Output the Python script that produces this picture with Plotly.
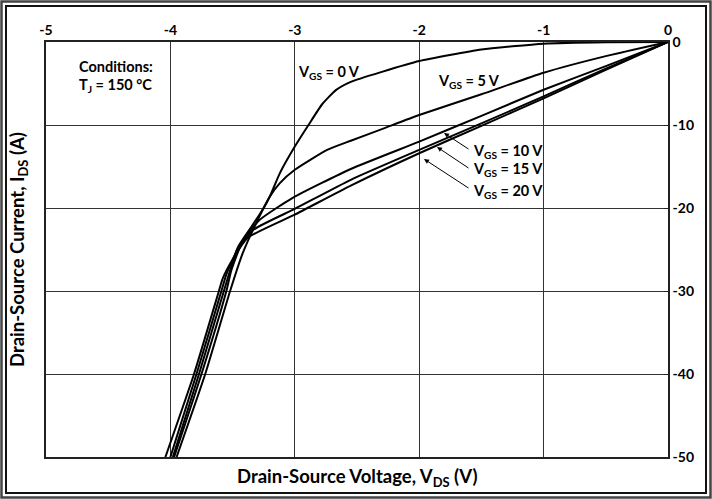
import plotly.graph_objects as go

# ---- data ----
v0 = [0, -0.5, -1.0, -1.5, -2.0, -2.3, -2.55, -2.67, -2.78, -2.89, -3.0, -3.12, -3.20, -3.25, -3.35, -3.46, -3.57, -3.77, -3.98]
i0 = [0, -0.02, -0.2, -0.9, -2.3, -3.6, -4.8, -5.8, -7.5, -10, -12.6, -15.8, -18.6, -20, -22.3, -24.8, -30, -40, -50]

v5 = [0, -0.5, -1.0, -1.5, -2.0, -2.3, -2.55, -2.74, -3.0, -3.12, -3.20, -3.30, -3.42, -3.52, -3.72, -3.95]
i5 = [0, -1.7, -3.7, -6.3, -8.8, -10.5, -11.9, -13.0, -15.4, -17.0, -18.6, -21.5, -25.5, -30, -40, -50]

v10 = [0, -0.5, -1.0, -1.5, -2.0, -2.55, -3.02, -3.28, -3.42, -3.51, -3.55, -3.75, -3.97]
i10 = [0, -2.9, -5.75, -8.9, -12.0, -15.3, -18.8, -21.4, -24, -27.5, -30, -40, -50]

v15 = [0, -0.5, -1.0, -1.5, -2.0, -2.55, -3.0, -3.33, -3.46, -3.55, -3.59, -3.79, -4.0]
i15 = [0, -3.2, -6.55, -9.8, -13.0, -16.6, -20.1, -22.6, -25, -28, -30, -40, -50]

v20 = [0, -0.5, -1.0, -1.5, -2.0, -2.55, -3.0, -3.38, -3.5, -3.58, -3.61, -3.81, -4.04]
i20 = [0, -3.35, -6.8, -10.1, -13.4, -17.3, -20.8, -23.6, -26.2, -28.5, -30, -40, -50]

x_ticks = [-5, -4, -3, -2, -1, 0]
y_ticks = [0, -10, -20, -30, -40, -50]

FONT = "Lato"
W, H = 712, 499
ML, MR, MT, MB = 46, 44, 42, 42

fig = go.Figure()
for vx, iy in [(v0, i0), (v5, i5), (v10, i10), (v15, i15), (v20, i20)]:
    fig.add_trace(go.Scatter(x=vx, y=iy, mode="lines", line=dict(color="black", width=2, shape="spline", smoothing=0.5),
                             showlegend=False, hoverinfo="skip"))

axis_common = dict(showgrid=True, gridcolor="#333", gridwidth=1, zeroline=False, showline=True,
                   linecolor="#222", linewidth=1.5, mirror=True,
                   tickfont=dict(family=FONT, size=14, color="black", weight="bold"))

fig.update_xaxes(range=[-5, 0], side="top", tickvals=x_ticks, ticktext=[str(t) for t in x_ticks],
                 ticks="", **axis_common)
fig.update_yaxes(range=[-50, 0], side="right", tickvals=y_ticks, ticktext=[str(t) for t in y_ticks],
                 ticks="inside", ticklen=4, tickcolor="#222", **axis_common)

pw = W - ML - MR
ph = H - MT - MB
def px(x):
    return (x - ML) / pw
def py(y):
    return 1 - (y - MT) / ph

def txt(x, y, s, size=14.5, xanchor="left"):
    fig.add_annotation(xref="paper", yref="paper", x=px(x), y=py(y), text=s, showarrow=False,
                       xanchor=xanchor, yanchor="middle",
                       font=dict(family=FONT, size=size, color="black", weight="bold"))

# axis titles
txt(357, 477, "Drain-Source Voltage, V<sub>DS</sub> (V)", size=18.5, xanchor="center")
fig.add_annotation(xref="paper", yref="paper", x=px(18), y=py(250), text="Drain-Source Current, I<sub>DS</sub> (A)",
                   showarrow=False, textangle=-90, xanchor="center", yanchor="middle",
                   font=dict(family=FONT, size=18.5, color="black", weight="bold"))

# conditions
txt(77, 66, "Conditions:")
txt(77, 85, "T<sub>J</sub> = 150 °C")

# curve labels
txt(296, 73, "V<sub>GS</sub> = 0 V")
txt(436, 81, "V<sub>GS</sub> = 5 V")
txt(471, 151, "V<sub>GS</sub> = 10 V")
txt(471, 169, "V<sub>GS</sub> = 15 V")
txt(471, 191, "V<sub>GS</sub> = 20 V")

# arrows from labels to curves
for (x0, y0, x1, y1) in [(470, 150, 444, 133), (470, 169, 437, 147), (470, 189, 424, 159)]:
    fig.add_annotation(xref="paper", yref="paper", x=px(x1), y=py(y1), ax=x0 - x1, ay=y0 - y1,
                       axref="pixel", ayref="pixel", text="", showarrow=True,
                       arrowhead=2, arrowsize=1, arrowwidth=1, arrowcolor="black")

# double frame around the picture
for (x0, y0, x1, y1, c, w) in [(1.5, 1.5, 710.5, 497.5, "#444", 2.5), (6, 6, 706, 493, "#111", 2)]:
    fig.add_shape(type="rect", xref="paper", yref="paper", x0=px(x0), y0=py(y0), x1=px(x1), y1=py(y1),
                  line=dict(color=c, width=w), fillcolor="rgba(0,0,0,0)", layer="above")

fig.update_layout(width=W, height=H, margin=dict(l=ML, r=MR, t=MT, b=MB),
                  paper_bgcolor="white", plot_bgcolor="white", showlegend=False)

fig.write_html("out.html", config={"displayModeBar": False},
               post_script="document.body.style.margin='0';document.body.style.overflow='hidden';")
